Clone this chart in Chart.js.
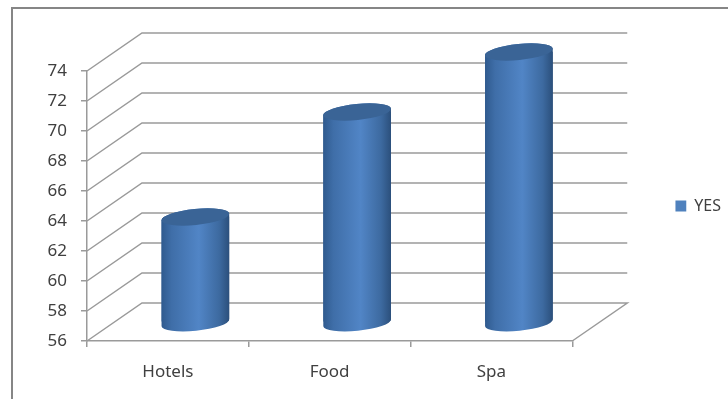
<!DOCTYPE html>
<html lang="en">
<head>
  <meta charset="UTF-8" />
  <title>YES by category</title>
  <script src="https://cdn.jsdelivr.net/npm/chart.js"></script>
  <style>
    html, body {
      margin: 0;
      background: #fff;
      overflow: hidden;
    }
    .frame {
      position: absolute;
      left: 11px;
      top: 7px;
      width: 717px;
      height: 392px;
      border-left: 2px solid #868686;
      border-top: 2px solid #868686;
      box-sizing: border-box;
    }
    #chart {
      position: absolute;
      left: 0;
      top: 0;
      filter: blur(0.4px);
    }
  </style>
</head>
<body>
  <div class="frame"></div>
  <canvas id="chart" width="728" height="399"></canvas>
  <script>
    const categories = ['Hotels', 'Food', 'Spa'];
    const yesValues = [63, 70, 74];
    const seriesName = 'YES';
    const AXIS_MIN = 56;
    const AXIS_MAX = 74;

    // 3D look: offset of the back wall, and of the bars (half way back)
    const DEPTH_X = 55;
    const DEPTH_Y = 38;
    const GRID_COLOR = '#9a9a9a';
    const BAR_WIDTH = 68;
    const CAP_RY = 8;
    const TILT = -0.1;

    function cylinderFill(context) {
      const cx = context.chart.scales.x.getPixelForValue(context.dataIndex);
      // scale has no size yet on the first pass
      if (!Number.isFinite(cx)) return '#4f81bd';
      const g = context.chart.ctx.createLinearGradient(cx - BAR_WIDTH / 2, 0, cx + BAR_WIDTH / 2, 0);
      g.addColorStop(0, '#2f5a8e');
      g.addColorStop(0.15, '#3f6ea8');
      g.addColorStop(0.55, '#5185c6');
      g.addColorStop(0.85, '#3d6aa0');
      g.addColorStop(1, '#2b4f7b');
      return g;
    }

    // outline of one cylinder: lower arc of the foot, upper arc of the cap
    function cylinderPath(ctx, b) {
      const rx = BAR_WIDTH / 2;
      ctx.moveTo(b.x + rx * Math.cos(TILT), b.base + 1.5 + rx * Math.sin(TILT));
      ctx.ellipse(b.x, b.base + 1.5, rx, CAP_RY, TILT, 0, Math.PI);
      ctx.ellipse(b.x, b.y, rx, CAP_RY, TILT, Math.PI, Math.PI * 2);
      ctx.closePath();
    }

    // Walls and floor behind the bars, cylinder ends around them
    const cylinder3d = {
      id: 'cylinder3d',
      beforeDatasetsDraw(chart) {
        const { ctx, chartArea: area, scales: { y } } = chart;
        ctx.save();
        ctx.strokeStyle = GRID_COLOR;
        ctx.lineWidth = 1.5;
        y.ticks.forEach(t => {
          const py = y.getPixelForValue(t.value);
          ctx.beginPath();
          ctx.moveTo(area.left, py);
          ctx.lineTo(area.left + DEPTH_X, py - DEPTH_Y);
          ctx.lineTo(area.right + DEPTH_X, py - DEPTH_Y);
          if (t.value === y.min) ctx.lineTo(area.right, py);
          ctx.stroke();
        });
        ctx.restore();

        const bars = chart.getDatasetMeta(0).data;
        ctx.save();
        ctx.translate(DEPTH_X / 2, -DEPTH_Y / 2);
        bars.forEach(b => {
          ctx.fillStyle = b.options.backgroundColor;
          ctx.beginPath();
          cylinderPath(ctx, b);
          ctx.fill();
        });
        // clip the flat bars to the cylinder outline
        ctx.beginPath();
        bars.forEach(b => cylinderPath(ctx, b));
        ctx.clip();
      },
      afterDatasetsDraw(chart) {
        const { ctx } = chart;
        ctx.restore();
        ctx.save();
        ctx.translate(DEPTH_X / 2, -DEPTH_Y / 2);
        chart.getDatasetMeta(0).data.forEach(b => {
          ctx.fillStyle = '#3a6496';
          ctx.beginPath();
          ctx.ellipse(b.x, b.y, BAR_WIDTH / 2, CAP_RY, TILT, 0, Math.PI * 2);
          ctx.fill();
        });
        ctx.restore();
      }
    };

    new Chart(document.getElementById('chart').getContext('2d'), {
      type: 'bar',
      data: {
        labels: categories,
        datasets: [{
          label: seriesName,
          data: yesValues,
          base: AXIS_MIN,
          backgroundColor: cylinderFill,
          borderWidth: 0,
          barThickness: BAR_WIDTH,
          clip: false
        }]
      },
      options: {
        responsive: false,
        animation: false,
        layout: { padding: { top: 71, right: -3, bottom: 0, left: 0 } },
        plugins: {
          tooltip: { enabled: false },
          legend: {
            position: 'right',
            fullSize: false,
            labels: {
              boxWidth: 11,
              boxHeight: 11,
              padding: 0,
              color: '#404040',
              font: { family: '"Noto Sans"', size: 16 },
              generateLabels: chart =>
                Chart.defaults.plugins.legend.labels.generateLabels(chart)
                  .map(l => ({ ...l, fillStyle: '#4f81bd' }))
            }
          }
        },
        scales: {
          x: {
            afterFit: s => { s.height = 58; },
            border: { color: GRID_COLOR, width: 1.5 },
            grid: { drawOnChartArea: false, color: GRID_COLOR, tickLength: 6, lineWidth: 1.5 },
            ticks: {
              color: '#404040',
              padding: 15,
              maxRotation: 0,
              font: { family: '"Noto Sans"', size: 17 }
            }
          },
          y: {
            min: AXIS_MIN,
            max: AXIS_MAX,
            afterFit: s => { s.width = 87; },
            border: { color: GRID_COLOR, width: 1.5 },
            grid: { drawOnChartArea: false, color: GRID_COLOR, tickLength: 6, lineWidth: 1.5 },
            ticks: {
              stepSize: 2,
              color: '#404040',
              padding: 14,
              font: { family: '"Noto Sans"', size: 17 }
            }
          },
          // empty axis, keeps the gap between plot and legend
          spacer: {
            position: 'right',
            display: true,
            afterFit: s => { s.width = 103; },
            border: { display: false },
            grid: { display: false },
            ticks: { display: false }
          }
        }
      },
      plugins: [cylinder3d]
    });
  </script>
</body>
</html>
